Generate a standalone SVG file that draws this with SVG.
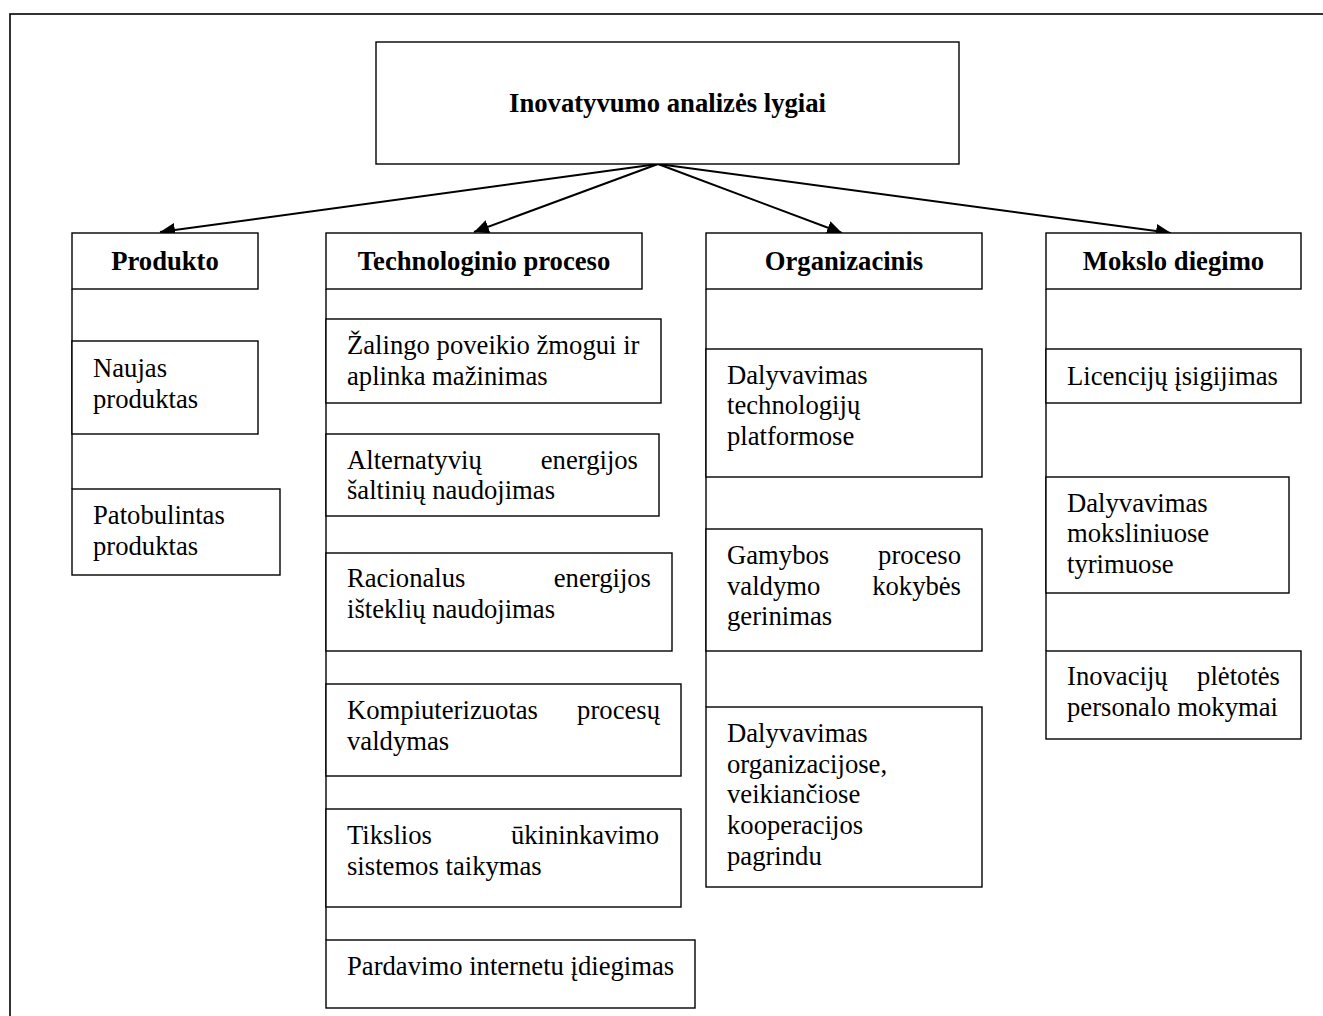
<svg xmlns="http://www.w3.org/2000/svg" width="1323" height="1016" viewBox="0 0 1323 1016">
<defs>
<marker id="ah" markerUnits="userSpaceOnUse" markerWidth="16" markerHeight="16" refX="15" refY="7" orient="auto">
<path d="M0,0 L15,7 L0,14 z" fill="#000"/>
</marker>
<style>
.box{fill:#fff;stroke:#000;stroke-width:1.4}
.frame{fill:none;stroke:#000;stroke-width:1.6}
.t{font-family:"Liberation Serif","Times New Roman",serif;font-size:26.67px;fill:#000}
.h{font-family:"Liberation Serif","Times New Roman",serif;font-size:26.67px;font-weight:bold;fill:#000;text-anchor:middle}
.r{text-anchor:end}
.arr{stroke:#000;stroke-width:2;fill:none;marker-end:url(#ah)}
.vl{stroke:#000;stroke-width:1.4;fill:none}
</style>
</defs>
<rect width="1323" height="1016" fill="#fff"/>
<rect class="frame" x="10" y="14" width="1400" height="1100"/>

<g id="connectors">
<line class="arr" x1="658" y1="164" x2="160" y2="232"/>
<line class="arr" x1="658" y1="164" x2="474" y2="232"/>
<line class="arr" x1="658" y1="164" x2="842" y2="233"/>
<line class="arr" x1="658" y1="164" x2="1171" y2="233"/>
<line class="vl" x1="72" y1="289" x2="72" y2="489"/>
<line class="vl" x1="326" y1="289" x2="326" y2="940"/>
<line class="vl" x1="706" y1="289" x2="706" y2="707"/>
<line class="vl" x1="1046" y1="289" x2="1046" y2="651"/>
</g>

<g id="root">
<rect class="box" x="376" y="42" width="583" height="122"/>
<text class="h" x="667.5" y="112">Inovatyvumo analizės lygiai</text>
</g>

<g id="h-produkto">
<rect class="box" x="72" y="233" width="186" height="56"/>
<text class="h" x="165" y="270">Produkto</text>
</g>
<g id="h-tech">
<rect class="box" x="326" y="233" width="316" height="56"/>
<text class="h" x="484" y="270">Technologinio proceso</text>
</g>
<g id="h-org">
<rect class="box" x="706" y="233" width="276" height="56"/>
<text class="h" x="844" y="270">Organizacinis</text>
</g>
<g id="h-mokslo">
<rect class="box" x="1046" y="233" width="255" height="56"/>
<text class="h" x="1173.5" y="270">Mokslo diegimo</text>
</g>

<g id="p1">
<rect class="box" x="72" y="341" width="186" height="93"/>
<text class="t" x="93" y="376.5">Naujas</text>
<text class="t" x="93" y="407.5">produktas</text>
</g>
<g id="p2">
<rect class="box" x="72" y="489" width="208" height="86"/>
<text class="t" x="93" y="523.5">Patobulintas</text>
<text class="t" x="93" y="554.5">produktas</text>
</g>

<g id="t1">
<rect class="box" x="326" y="319" width="335" height="84"/>
<text class="t" x="347" y="353.5">Žalingo poveikio žmogui ir</text>
<text class="t" x="347" y="384.5">aplinka mažinimas</text>
</g>
<g id="t2">
<rect class="box" x="326" y="434" width="333" height="82"/>
<text class="t" x="347" y="468.5">Alternatyvių</text>
<text class="t r" x="638" y="468.5">energijos</text>
<text class="t" x="347" y="499">šaltinių naudojimas</text>
</g>
<g id="t3">
<rect class="box" x="326" y="553" width="346" height="98"/>
<text class="t" x="347" y="587">Racionalus</text>
<text class="t r" x="651" y="587">energijos</text>
<text class="t" x="347" y="617.5">išteklių naudojimas</text>
</g>
<g id="t4">
<rect class="box" x="326" y="684" width="355" height="92"/>
<text class="t" x="347" y="718.5">Kompiuterizuotas</text>
<text class="t r" x="660" y="718.5">procesų</text>
<text class="t" x="347" y="749.5">valdymas</text>
</g>
<g id="t5">
<rect class="box" x="326" y="809" width="355" height="98"/>
<text class="t" x="347" y="843.5">Tikslios</text>
<text class="t r" x="659" y="843.5">ūkininkavimo</text>
<text class="t" x="347" y="874.5">sistemos taikymas</text>
</g>
<g id="t6">
<rect class="box" x="326" y="940" width="369" height="68"/>
<text class="t" x="347" y="975">Pardavimo internetu įdiegimas</text>
</g>

<g id="o1">
<rect class="box" x="706" y="349" width="276" height="128"/>
<text class="t" x="727" y="383.5">Dalyvavimas</text>
<text class="t" x="727" y="414.2">technologijų</text>
<text class="t" x="727" y="444.9">platformose</text>
</g>
<g id="o2">
<rect class="box" x="706" y="529" width="276" height="122"/>
<text class="t" x="727" y="564">Gamybos</text>
<text class="t r" x="961" y="564">proceso</text>
<text class="t" x="727" y="594.7">valdymo</text>
<text class="t r" x="961" y="594.7">kokybės</text>
<text class="t" x="727" y="625.4">gerinimas</text>
</g>
<g id="o3">
<rect class="box" x="706" y="707" width="276" height="180"/>
<text class="t" x="727" y="742">Dalyvavimas</text>
<text class="t" x="727" y="772.7">organizacijose,</text>
<text class="t" x="727" y="803.4">veikiančiose</text>
<text class="t" x="727" y="834.1">kooperacijos</text>
<text class="t" x="727" y="864.8">pagrindu</text>
</g>

<g id="m1">
<rect class="box" x="1046" y="349" width="255" height="54"/>
<text class="t" x="1067" y="385">Licencijų įsigijimas</text>
</g>
<g id="m2">
<rect class="box" x="1046" y="477" width="243" height="116"/>
<text class="t" x="1067" y="511.5">Dalyvavimas</text>
<text class="t" x="1067" y="542.2">moksliniuose</text>
<text class="t" x="1067" y="572.9">tyrimuose</text>
</g>
<g id="m3">
<rect class="box" x="1046" y="651" width="255" height="88"/>
<text class="t" x="1067" y="685">Inovacijų</text>
<text class="t r" x="1280" y="685">plėtotės</text>
<text class="t" x="1067" y="716">personalo mokymai</text>
</g>
</svg>
